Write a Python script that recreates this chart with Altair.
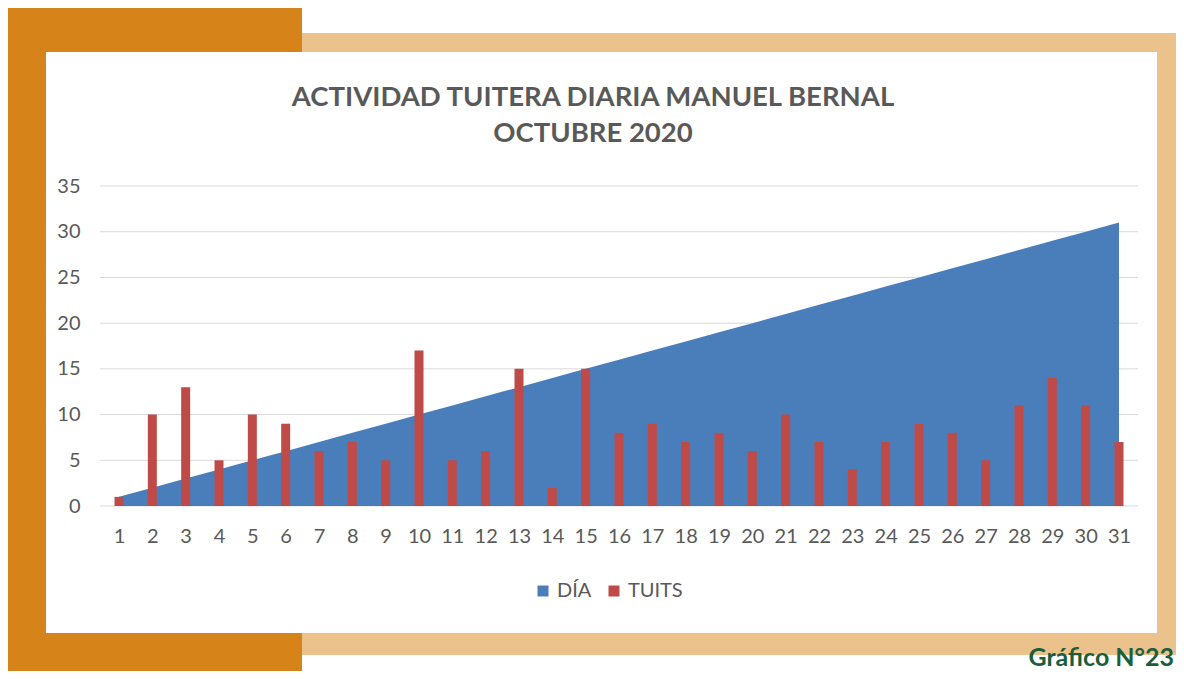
import altair as alt
import pandas as pd

days = list(range(1, 32))
dia = [1, 2, 3, 4, 5, 6, 7, 8, 9, 10, 11, 12, 13, 14, 15, 16, 17, 18, 19, 20,
       21, 22, 23, 24, 25, 26, 27, 28, 29, 30, 31]
tuits = [1, 10, 13, 5, 10, 9, 6, 7, 5, 17, 5, 6, 15, 2, 15, 8, 9, 7, 8, 6,
         10, 7, 4, 7, 9, 8, 5, 11, 14, 11, 7]
series = ["DÍA", "TUITS"]
colors = ["#4A7EBB", "#BE4B48"]
y_ticks = [0, 5, 10, 15, 20, 25, 30, 35]
title_lines = ["ACTIVIDAD TUITERA DIARIA MANUEL BERNAL", "OCTUBRE 2020"]
caption = "Gráfico N°23"

W, H = 1038, 320
FONT = "Lato"
GRAY = "#595959"

area_df = pd.DataFrame({"day": days, "value": dia, "serie": series[0]})
bar_df = pd.DataFrame({"day": days, "value": tuits, "serie": series[1]})
grid_df = pd.DataFrame({"value": y_ticks})
one = pd.DataFrame({"a": [0]})

xscale = alt.Scale(domain=[0.43, 31.57], nice=False, zero=False, padding=0)
yscale = alt.Scale(domain=[0, 35], nice=False, padding=0)
cscale = alt.Scale(domain=series, range=colors)

xaxis = alt.Axis(values=days, grid=False, domain=False, ticks=False,
                 labelPadding=20, labelFontSize=20, labelColor=GRAY,
                 labelFont=FONT, zindex=1, labelFlush=False,
                 labelOverlap=False, labelBound=False)
yaxis = alt.Axis(values=y_ticks, grid=False, domain=False, ticks=False,
                 labelPadding=20, labelFontSize=20, labelColor=GRAY,
                 labelFont=FONT, zindex=1, labelOverlap=False)
legend = alt.Legend(orient="none", legendX=433, legendY=395,
                    direction="horizontal", symbolType="square",
                    symbolSize=121, symbolStrokeWidth=0,
                    labelFontSize=20, labelColor=GRAY,
                    labelFont=FONT, columnPadding=12,
                    labelOffset=4, zindex=1)


def box(x1, x2, y1, y2, color):
    return alt.Chart(one).mark_rect(color=color).encode(
        x=alt.value(x1), x2=alt.value(x2), y=alt.value(y1), y2=alt.value(y2)
    )


orange = box(-92, 202, -178, 485, "#D6841A")
tan = box(202, 1084, -153, 469, "#EBC28C")
white = box(-54, 1057, -134, 447, "#FFFFFF")

grid = alt.Chart(grid_df).mark_rule(color="#D9D9D9", strokeWidth=1).encode(
    y=alt.Y("value:Q", scale=yscale, axis=yaxis, title=None),
    x=alt.value(0), x2=alt.value(W),
)

area = alt.Chart(area_df).mark_area(opacity=1).encode(
    x=alt.X("day:Q", scale=xscale, title=None, axis=xaxis),
    y=alt.Y("value:Q", scale=yscale, title=None, axis=yaxis),
    color=alt.Color("serie:N", scale=cscale, title=None, legend=legend),
)

bars = alt.Chart(bar_df).mark_bar(width=9).encode(
    x=alt.X("day:Q", scale=xscale, title=None, axis=xaxis),
    y=alt.Y("value:Q", scale=yscale, title=None, axis=yaxis),
    color=alt.Color("serie:N", scale=cscale, title=None, legend=legend),
)


def title_text(txt, y):
    return alt.Chart(pd.DataFrame({"t": [txt]})).mark_text(
        font=FONT, fontSize=27.5, fontWeight="bold", color=GRAY, align="center",
        baseline="middle"
    ).encode(text="t:N", x=alt.value(493), y=alt.value(y))


t1 = title_text(title_lines[0], -88)
t2 = title_text(title_lines[1], -52)

cap = alt.Chart(pd.DataFrame({"t": [caption]})).mark_text(
    font=FONT, fontSize=25, fontWeight="bold", color="#1B5E3B", align="right",
    baseline="alphabetic"
).encode(text="t:N", x=alt.value(1074), y=alt.value(480))

chart = alt.layer(orange, tan, white, grid, area, bars, t1, t2, cap).properties(
    width=W, height=H,
    autosize=alt.AutoSizeParams(type="none"),
    padding={"left": 92, "top": 178, "right": 38, "bottom": 165},
).configure_view(stroke=None)

chart.save("out.html", embed_options={"renderer": "svg", "actions": False})
